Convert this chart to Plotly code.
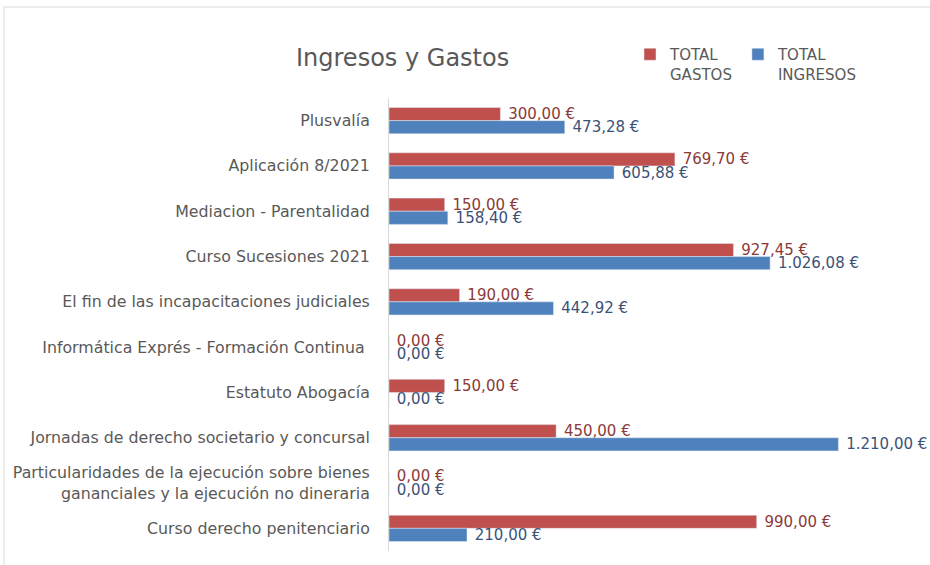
import plotly.graph_objects as go

categories = [
    "Plusvalía",
    "Aplicación 8/2021",
    "Mediacion - Parentalidad",
    "Curso Sucesiones 2021",
    "El fin de las incapacitaciones judiciales",
    "Informática Exprés - Formación Continua ",
    "Estatuto Abogacía",
    "Jornadas de derecho societario y concursal",
    "Particularidades de la ejecución sobre bienes<br>gananciales y la ejecución no dineraria",
    "Curso derecho penitenciario",
]
gastos = [300.00, 769.70, 150.00, 927.45, 190.00, 0.00, 150.00, 450.00, 0.00, 990.00]
ingresos = [473.28, 605.88, 158.40, 1026.08, 442.92, 0.00, 0.00, 1210.00, 0.00, 210.00]


def eur(v):
    s = f"{v:,.2f}".replace(",", "X").replace(".", ",").replace("X", ".")
    return " " + s + " €"


FONT = "DejaVu Sans"
GRAY = "#595959"

fig = go.Figure()
fig.add_trace(go.Bar(
    y=categories, x=gastos, orientation="h", name="TOTAL<br>GASTOS",
    marker=dict(color="#C0504D"),
    text=[eur(v) for v in gastos], textposition="outside", constraintext="none",
    textfont=dict(color="#8B3A38", size=15, family=FONT),
    cliponaxis=False,
))
fig.add_trace(go.Bar(
    y=categories, x=ingresos, orientation="h", name="TOTAL<br>INGRESOS",
    marker=dict(color="#4F81BD"),
    text=[eur(v) for v in ingresos], textposition="outside", constraintext="none",
    textfont=dict(color="#3B5278", size=15, family=FONT),
    cliponaxis=False,
))

L, R, T, B = 389, 909, 98, 551
PW, PH = R - L, B - T

fig.update_layout(
    width=930, height=565,
    margin=dict(l=L, r=930 - R, t=T, b=565 - B, autoexpand=False),
    paper_bgcolor="white", plot_bgcolor="white",
    barmode="group", bargap=0.42, bargroupgap=0.0,
    font=dict(family=FONT, color=GRAY, size=15),
    title=dict(text="Ingresos y Gastos", x=296/930, xref="container", xanchor="left",
               y=1-58/565, yref="container", yanchor="middle",
               font=dict(size=24, color=GRAY, family=FONT)),
    legend=dict(orientation="h", x=(630-L)/PW, xanchor="left", y=1+(T-38)/PH,
                yanchor="top", valign="top", font=dict(size=15, color=GRAY, family=FONT),
                traceorder="normal", itemwidth=30),
    xaxis=dict(range=[0, 1400], visible=False, automargin=False),
    yaxis=dict(autorange="reversed", showline=True, linecolor="#d9d9d9", linewidth=1,
               automargin=False,
               ticks="", ticklabelstandoff=15, tickfont=dict(size=15.8, color=GRAY, family=FONT),
               showgrid=False),
    shapes=[
        dict(type="line", xref="paper", yref="paper", x0=(4-L)/PW, x1=2,
             y0=(B-7)/PH, y1=(B-7)/PH, line=dict(color="#d9d9d9", width=1)),
        dict(type="line", xref="paper", yref="paper", x0=(4-L)/PW, x1=(4-L)/PW,
             y0=-1, y1=(B-7)/PH, line=dict(color="#d9d9d9", width=1)),
    ],
    showlegend=True,
)

fig.write_html("out.html", config={"displayModeBar": False},
               post_script="document.body.style.margin='0px';")
